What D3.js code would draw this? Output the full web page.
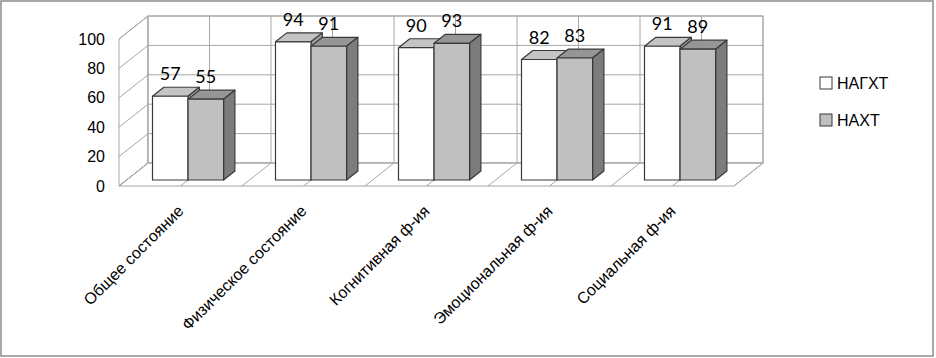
<!DOCTYPE html>
<html>
  <head>
    <meta charset="utf-8">
    <script src="https://cdn.jsdelivr.net/npm/d3@7"></script>
    <style>
      body { margin: 0; background: #fff; }
    </style>
  </head>
  <body>
    <svg id="chart" width="936" height="358"></svg>
    <script>
      var categories = ["Общее состояние", "Физическое состояние", "Когнитивная ф-ия", "Эмоциональная ф-ия", "Социальная ф-ия"];
      var series = ["НАГХТ", "НАХТ"];
      var nagxt = [57, 94, 90, 82, 91];
      var naxt = [55, 91, 93, 83, 89];
      var yTicks = [0, 20, 40, 60, 80, 100];

      var faces = {
        "НАГХТ": {front: "#ffffff", top: "#c4c4c4", side: "#a0a0a0"},
        "НАХТ": {front: "#c0c0c0", top: "#969696", side: "#7c7c7c"}
      };

      var svg = d3.select("#chart");
      // outer frame
      svg.append("rect").attr("x", 1).attr("y", 1).attr("width", 932).attr("height", 355)
        .attr("fill", "#fff").attr("stroke", "#8c8c8c").attr("stroke-width", 1.5);

      // back wall scales, depth offset towards the viewer
      var x = d3.scaleBand().domain(categories).range([148, 763]);
      var y = d3.scaleLinear().domain([0, 100]).range([163, 16]);
      var DX = -29, DY = 23;
      function p(px, py, d) { return [px + DX * d, py + DY * d]; }
      function poly(pts) { return "M" + pts.map(q => q.join(",")).join("L") + "Z"; }
      var grid = "#a6a6a6";

      var walls = svg.append("g");
      // left wall
      walls.append("path").attr("d", poly([p(148, y(0), 1), p(148, y(0), 0), p(148, y(100), 0), p(148, y(100), 1)]))
        .attr("fill", "#fff").attr("stroke", grid);
      // back wall
      walls.append("rect").attr("x", 148).attr("y", y(100)).attr("width", 763 - 148).attr("height", y(0) - y(100))
        .attr("fill", "#fff").attr("stroke", grid);
      // floor
      walls.append("path").attr("d", poly([p(148, y(0), 1), p(763, y(0), 1), p(763, y(0), 0), p(148, y(0), 0)]))
        .attr("fill", "#fff").attr("stroke", grid);

      yTicks.forEach(function (t) {
        walls.append("line").attr("x1", 148).attr("x2", 763).attr("y1", y(t)).attr("y2", y(t)).attr("stroke", grid);
        var a = p(148, y(t), 1);
        walls.append("line").attr("x1", a[0]).attr("y1", a[1]).attr("x2", 148).attr("y2", y(t)).attr("stroke", grid);
      });

      var halfSteps = d3.range(categories.length * 2 + 1).map(k => x.range()[0] + k * x.bandwidth() / 2);
      halfSteps.forEach(function (gx) {
        walls.append("line").attr("x1", gx).attr("x2", gx).attr("y1", y(100)).attr("y2", y(0)).attr("stroke", grid);
        var a = p(gx, y(0), 1);
        walls.append("line").attr("x1", a[0]).attr("y1", a[1]).attr("x2", gx).attr("y2", y(0)).attr("stroke", grid);
      });

      // bars
      var x1 = d3.scaleBand().domain(series).range([0, x.bandwidth()]).paddingOuter(0.73);
      var dFront = 0.74, dBack = 0.35;
      var rows = categories.map((c, i) => ({cat: c, values: [nagxt[i], naxt[i]]}));
      var bars = svg.append("g");
      var labels = svg.append("g");

      rows.forEach(function (r) {
        series.forEach(function (s, j) {
          var v = r.values[j];
          var x0 = x(r.cat) + x1(s), xw = x0 + x1.bandwidth();
          var f = faces[s];
          var g = bars.append("g").attr("stroke", "#3a3a3a").attr("stroke-width", 1.2).attr("stroke-linejoin", "round");
          // top
          g.append("path").attr("fill", f.top)
            .attr("d", poly([p(x0, y(v), dFront), p(xw, y(v), dFront), p(xw, y(v), dBack), p(x0, y(v), dBack)]));
          // side
          g.append("path").attr("fill", f.side)
            .attr("d", poly([p(xw, y(0), dFront), p(xw, y(0), dBack), p(xw, y(v), dBack), p(xw, y(v), dFront)]));
          // front
          g.append("path").attr("fill", f.front)
            .attr("d", poly([p(x0, y(0), dFront), p(xw, y(0), dFront), p(xw, y(v), dFront), p(x0, y(v), dFront)]));

          var c = p(x0 + x1.bandwidth() / 2, y(v), dFront);
          var b = p(x0, y(v), dBack);
          labels.append("text").text(v)
            .attr("x", c[0]).attr("y", b[1] - 7)
            .attr("text-anchor", "middle")
            .attr("font-family", "Lato, sans-serif").attr("font-size", 18).attr("fill", "#000");
        });
      });

      // value axis on the front edge of the left wall
      var yAxis = d3.axisLeft(y).tickValues(yTicks).tickSize(0).tickPadding(14);
      svg.append("g").attr("transform", `translate(${148 + DX}, ${DY})`).call(yAxis)
        .call(g => g.select(".domain").remove())
        .selectAll("text").attr("font-family", "Liberation Sans, Arial, sans-serif").attr("font-size", 16).attr("fill", "#000");

      // category axis under the floor
      var xAxis = d3.axisBottom(x).tickSize(0).tickPadding(0);
      svg.append("g").attr("transform", `translate(${DX}, ${y(0) + DY})`).call(xAxis)
        .call(g => g.select(".domain").remove())
        .selectAll("text")
        .attr("font-family", "Liberation Sans, Arial, sans-serif").attr("font-size", 16).attr("fill", "#000")
        .attr("text-anchor", "end").attr("dy", "0.71em")
        .attr("transform", "translate(-4, 18) rotate(-45)");

      // legend
      var legend = svg.append("g").attr("transform", "translate(820, 77)");
      series.forEach(function (s, i) {
        var row = legend.append("g").attr("transform", `translate(0, ${i * 37})`);
        row.append("rect").attr("width", 12).attr("height", 12)
          .attr("fill", faces[s].front).attr("stroke", "#3a3a3a").attr("stroke-width", 1);
        row.append("text").text(s).attr("x", 17).attr("y", 12)
          .attr("font-family", "Liberation Sans, Arial, sans-serif").attr("font-size", 16).attr("fill", "#000");
      });
    </script>
  </body>
</html>
